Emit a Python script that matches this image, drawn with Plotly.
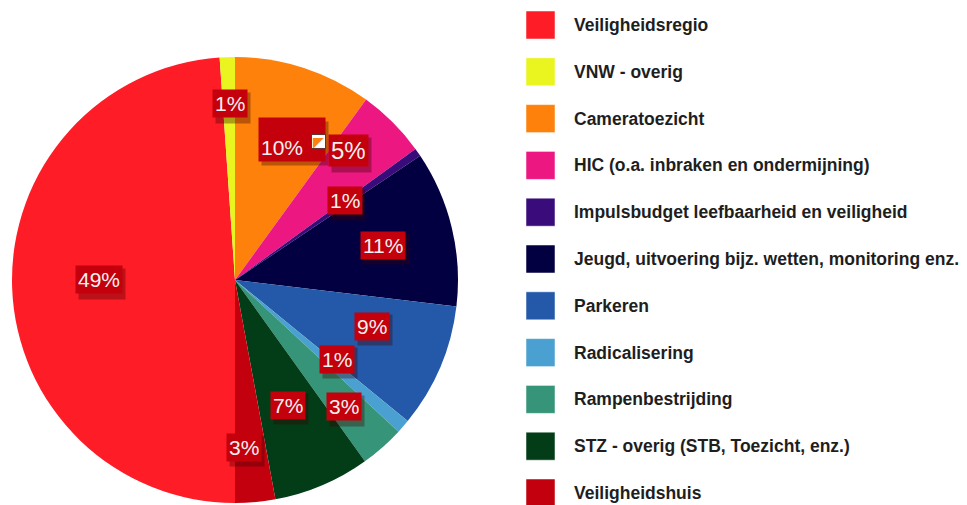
import math
import plotly.graph_objects as go

# ---------------- data ----------------
categories = [
    "Veiligheidsregio",
    "VNW - overig",
    "Cameratoezicht",
    "HIC (o.a. inbraken en ondermijning)",
    "Impulsbudget leefbaarheid en veiligheid",
    "Jeugd, uitvoering bijz. wetten, monitoring enz.",
    "Parkeren",
    "Radicalisering",
    "Rampenbestrijding",
    "STZ - overig (STB, Toezicht, enz.)",
    "Veiligheidshuis",
]
shares = [48.9, 1.1, 10.0, 5.0, 0.6, 11.3, 9.0, 1.0, 3.2, 7.0, 2.9]

# ---------------- style ----------------
colors = ["#fe1c26", "#eaf41f", "#fd810a", "#ec1780", "#3a0b7b", "#020040",
          "#2359a8", "#4aa1d1", "#369579", "#023d17", "#c2000e"]
# label placement: fraction of radius, angular tweak (deg), font size
label_r = [0.61, 0.79, 0.62, 0.77, 0.61, 0.68, 0.65, 0.58, 0.75, 0.61, 0.75]
label_da = [2.0, 0.4, 0.0, -3.8, -0.8, 0.2, -4.4, -3.2, 0.6, 0.0, 2.2]
label_fs = [21, 21, 21, 24, 21, 21, 21, 21, 21, 21, 21]

W, H = 967, 505
cx, cy, R = 235, 280, 223
FONT = "Arial, Liberation Sans, sans-serif"
BOX = "#c3000b"


def px(x):
    return x / W


def py(y):
    return 1 - y / H


fig = go.Figure()
fig.add_trace(go.Pie(
    labels=categories, values=shares, sort=False, direction="clockwise",
    rotation=180, textinfo="none", hoverinfo="label+percent",
    marker=dict(colors=colors, line=dict(width=0)),
    domain=dict(x=[px(cx - R), px(cx + R)], y=[py(cy + R), py(cy - R)]),
    showlegend=False,
))

annotations = []
shapes = []
total = sum(shares)
cum = 0.0
for i, v in enumerate(shares):
    mid = 180 + 360 * (cum + v / 2) / total + label_da[i]
    cum += v
    a = math.radians(mid)
    lx = cx + label_r[i] * R * math.sin(a)
    ly = cy - label_r[i] * R * math.cos(a)
    txt = f"{round(v / total * 100)}%"
    fs = label_fs[i]
    ndig = len(txt) - 1
    bw = fs * (0.556 * ndig + 0.889)
    bh = fs * 1.25
    extra = {}
    xs, ys = 0, 0
    if i == 2:
        extra = dict(align="left", valign="bottom")
        bw, bh = 62, 39
        xs, ys = 14, 9
    base = dict(x=px(lx), y=py(ly), xref="paper", yref="paper", showarrow=False,
                xanchor="center", yanchor="middle", borderpad=2)
    # shadow box (no text)
    annotations.append(dict(
        text="&nbsp;", width=bw, height=bh, font=dict(family=FONT, size=fs, color="rgba(0,0,0,0)"),
        bgcolor="rgba(60,0,0,0.35)", xshift=xs + 3, yshift=ys - 4, **base))
    lab = dict(text=txt, font=dict(family=FONT, size=fs, color="#f4f0f0"),
               bgcolor=BOX, xshift=xs, yshift=ys, **base)
    if i == 2:
        lab.update(width=bw, height=bh, **extra)
    annotations.append(lab)
    if i == 2:
        # small glitch icon inside the right part of the 10% box
        annotations.append(dict(
            x=px(lx + 41), y=py(ly - 7), xref="paper", yref="paper", showarrow=False,
            xanchor="center", yanchor="middle", text="◤", width=13, height=13,
            borderpad=0, bgcolor="white", bordercolor="#663333", borderwidth=1,
            font=dict(family="DejaVu Sans", size=14, color="#fd810a")))

# manual legend
for i, (name, col) in enumerate(zip(categories, colors)):
    yc = 25 + i * 46.8
    shapes.append(dict(type="rect", xref="paper", yref="paper",
                       x0=px(526), x1=px(555), y0=py(yc + 14), y1=py(yc - 14),
                       fillcolor=col, line=dict(color="rgba(255,255,255,0.5)", width=1)))
    annotations.append(dict(
        x=px(572), y=py(yc), xref="paper", yref="paper", showarrow=False,
        xanchor="left", yanchor="middle", text=f"<b>{name}</b>",
        font=dict(family=FONT, size=17.5, color="#1e1e1e")))

fig.update_layout(
    width=W, height=H, margin=dict(l=0, r=0, t=0, b=0),
    paper_bgcolor="white", plot_bgcolor="white",
    annotations=annotations, shapes=shapes, showlegend=False,
)
fig.write_html("out.html", config={"displayModeBar": False},
               post_script="document.body.style.margin='0';")
